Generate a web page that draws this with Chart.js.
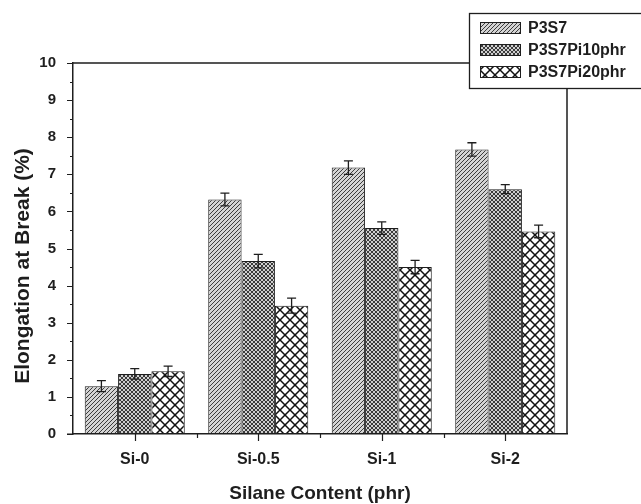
<!DOCTYPE html>
<html>
<head>
<meta charset="utf-8">
<script src="https://cdn.jsdelivr.net/npm/chart.js@4"></script>
<style>
  html, body { margin: 0; padding: 0; background: #fff; }
  #wrap { width: 641px; height: 504px; }
</style>
</head>
<body>
<div id="wrap"><canvas id="chart" width="641" height="504"></canvas></div>
<script>
const categories = ['Si-0', 'Si-0.5', 'Si-1', 'Si-2'];
const seriesNames = ['P3S7', 'P3S7Pi10phr', 'P3S7Pi20phr'];
const p3s7 = [1.29, 6.32, 7.18, 7.67];
const p3s7Pi10 = [1.62, 4.66, 5.55, 6.60];
const p3s7Pi20 = [1.69, 3.46, 4.50, 5.46];
const p3s7Err = [0.15, 0.17, 0.18, 0.18];
const p3s7Pi10Err = [0.14, 0.18, 0.17, 0.12];
const p3s7Pi20Err = [0.14, 0.20, 0.18, 0.17];
const yTicks = [0, 1, 2, 3, 4, 5, 6, 7, 8, 9, 10];
const yTitle = 'Elongation at Break (%)';

// fill patterns, built on small offscreen canvases
function makePattern(size, draw) {
  const c = document.createElement('canvas');
  c.width = size; c.height = size;
  const g = c.getContext('2d');
  draw(g, size);
  return document.getElementById('chart').getContext('2d').createPattern(c, 'repeat');
}
function diag(g, s, dir) {
  g.beginPath();
  if (dir > 0) {
    g.moveTo(0, s); g.lineTo(s, 0);
    g.moveTo(-1, 1); g.lineTo(1, -1);
    g.moveTo(s - 1, s + 1); g.lineTo(s + 1, s - 1);
  } else {
    g.moveTo(0, 0); g.lineTo(s, s);
    g.moveTo(-1, s - 1); g.lineTo(1, s + 1);
    g.moveTo(s - 1, -1); g.lineTo(s + 1, 1);
  }
  g.stroke();
}
const hatch = makePattern(4, function(g, s) {
  g.fillStyle = '#d4d4d4'; g.fillRect(0, 0, s, s);
  g.strokeStyle = '#3c3c3c'; g.lineWidth = 1;
  diag(g, s, 1);
});
const dense = makePattern(4, function(g, s) {
  g.fillStyle = '#d0d0d0'; g.fillRect(0, 0, s, s);
  g.strokeStyle = '#2a2a2a'; g.lineWidth = 0.9;
  diag(g, s, 1); diag(g, s, -1);
});
const cross = makePattern(10, function(g, s) {
  g.fillStyle = '#fff'; g.fillRect(0, 0, s, s);
  g.strokeStyle = '#111'; g.lineWidth = 1.5;
  diag(g, s, 1); diag(g, s, -1);
});

const fills = [hatch, dense, cross];
const errors = [p3s7Err, p3s7Pi10Err, p3s7Pi20Err];
const INK = '#1e1e1e';
const FONT = '"Liberation Sans", Arial, sans-serif';

// error bars, axis ticks, frame, y title and boxed legend
const decorations = {
  id: 'decorations',
  afterDatasetsDraw(chart) {
    const ctx = chart.ctx;
    const y = chart.scales.y;
    ctx.save();
    ctx.strokeStyle = INK;
    ctx.lineWidth = 1.3;
    chart.data.datasets.forEach(function(ds, i) {
      chart.getDatasetMeta(i).data.forEach(function(bar, j) {
        const v = ds.data[j], e = errors[i][j];
        const top = y.getPixelForValue(v + e), bot = y.getPixelForValue(v - e);
        ctx.beginPath();
        ctx.moveTo(bar.x, top); ctx.lineTo(bar.x, bot);
        ctx.moveTo(bar.x - 4.5, top); ctx.lineTo(bar.x + 4.5, top);
        ctx.moveTo(bar.x - 4.5, bot); ctx.lineTo(bar.x + 4.5, bot);
        ctx.stroke();
      });
    });
    ctx.restore();
  },
  afterDraw(chart) {
    const ctx = chart.ctx;
    const a = chart.chartArea;
    const x = chart.scales.x, y = chart.scales.y;
    ctx.save();
    ctx.strokeStyle = INK;
    ctx.lineWidth = 1.5;
    ctx.beginPath();
    ctx.moveTo(a.left, a.top); ctx.lineTo(a.right, a.top); ctx.lineTo(a.right, a.bottom);
    ctx.stroke();
    // y ticks, major and minor, outward
    ctx.lineWidth = 1.2;
    ctx.beginPath();
    for (let v = 0; v <= 10; v += 0.5) {
      const py = Math.round(y.getPixelForValue(v)) + 0.5;
      const len = Number.isInteger(v) ? 6 : 3;
      ctx.moveTo(a.left, py); ctx.lineTo(a.left - len, py);
    }
    // x ticks at centres and group boundaries
    categories.forEach(function(c, i) {
      const px = Math.round(x.getPixelForValue(i)) + 0.5;
      ctx.moveTo(px, a.bottom); ctx.lineTo(px, a.bottom + 7);
      if (i > 0) {
        const bx = Math.round((x.getPixelForValue(i) + x.getPixelForValue(i - 1)) / 2) + 0.5;
        ctx.moveTo(bx, a.bottom); ctx.lineTo(bx, a.bottom + 4);
      }
    });
    ctx.moveTo(a.left - 6, a.bottom); ctx.lineTo(a.left, a.bottom);
    ctx.stroke();
    // y axis title (sits a little below the plot's middle in the original)
    ctx.save();
    ctx.translate(23, 266);
    ctx.rotate(-Math.PI / 2);
    ctx.fillStyle = INK;
    ctx.font = 'bold 21px ' + FONT;
    ctx.textAlign = 'center';
    ctx.textBaseline = 'middle';
    ctx.fillText(yTitle, 0, 0);
    ctx.restore();
    // legend box
    ctx.fillStyle = '#fff';
    ctx.fillRect(469, 13, 180, 75);
    ctx.lineWidth = 1.3;
    ctx.strokeRect(469.5, 13.5, 180, 75);
    seriesNames.forEach(function(name, i) {
      const cy = 28 + i * 22;
      ctx.fillStyle = fills[i];
      ctx.fillRect(480, cy - 5, 40, 10);
      ctx.lineWidth = 1;
      ctx.strokeRect(480.5, cy - 5.5, 40, 11);
      ctx.fillStyle = INK;
      ctx.font = 'bold 16px ' + FONT;
      ctx.textBaseline = 'middle';
      ctx.fillText(name, 528, cy + 1);
    });
    ctx.restore();
  }
};

new Chart(document.getElementById('chart'), {
  type: 'bar',
  data: {
    labels: categories,
    datasets: [p3s7, p3s7Pi10, p3s7Pi20].map(function(d, i) {
      return {
        label: seriesNames[i],
        data: d,
        backgroundColor: fills[i],
        borderColor: INK,
        borderWidth: 1,
        borderSkipped: false,
        categoryPercentage: 0.81,
        barPercentage: 1.0
      };
    })
  },
  options: {
    responsive: false,
    animation: false,
    layout: { padding: { top: 63, right: 74, left: 0, bottom: 0 } },
    plugins: { legend: { display: false }, tooltip: { enabled: false } },
    scales: {
      x: {
        offset: true,
        grid: { display: false },
        border: { display: true, color: INK, width: 1.5 },
        ticks: { color: INK, font: { family: FONT, size: 16, weight: 'bold' }, padding: 8 },
        title: {
          display: true, text: 'Silane Content (phr)', color: INK,
          font: { family: FONT, size: 19, weight: 'bold' }, padding: { top: 6, bottom: -1 }
        },
        afterFit: function(s) { s.height = 70; }
      },
      y: {
        min: 0, max: 10,
        afterBuildTicks: function(s) { s.ticks = yTicks.map(function(v) { return { value: v }; }); },
        grid: { display: false },
        border: { display: true, color: INK, width: 1.5 },
        ticks: { color: INK, font: { family: FONT, size: 15, weight: 'bold' }, padding: 9 },
        afterFit: function(s) { s.width = 73; }
      }
    }
  },
  plugins: [decorations]
});
</script>
</body>
</html>
